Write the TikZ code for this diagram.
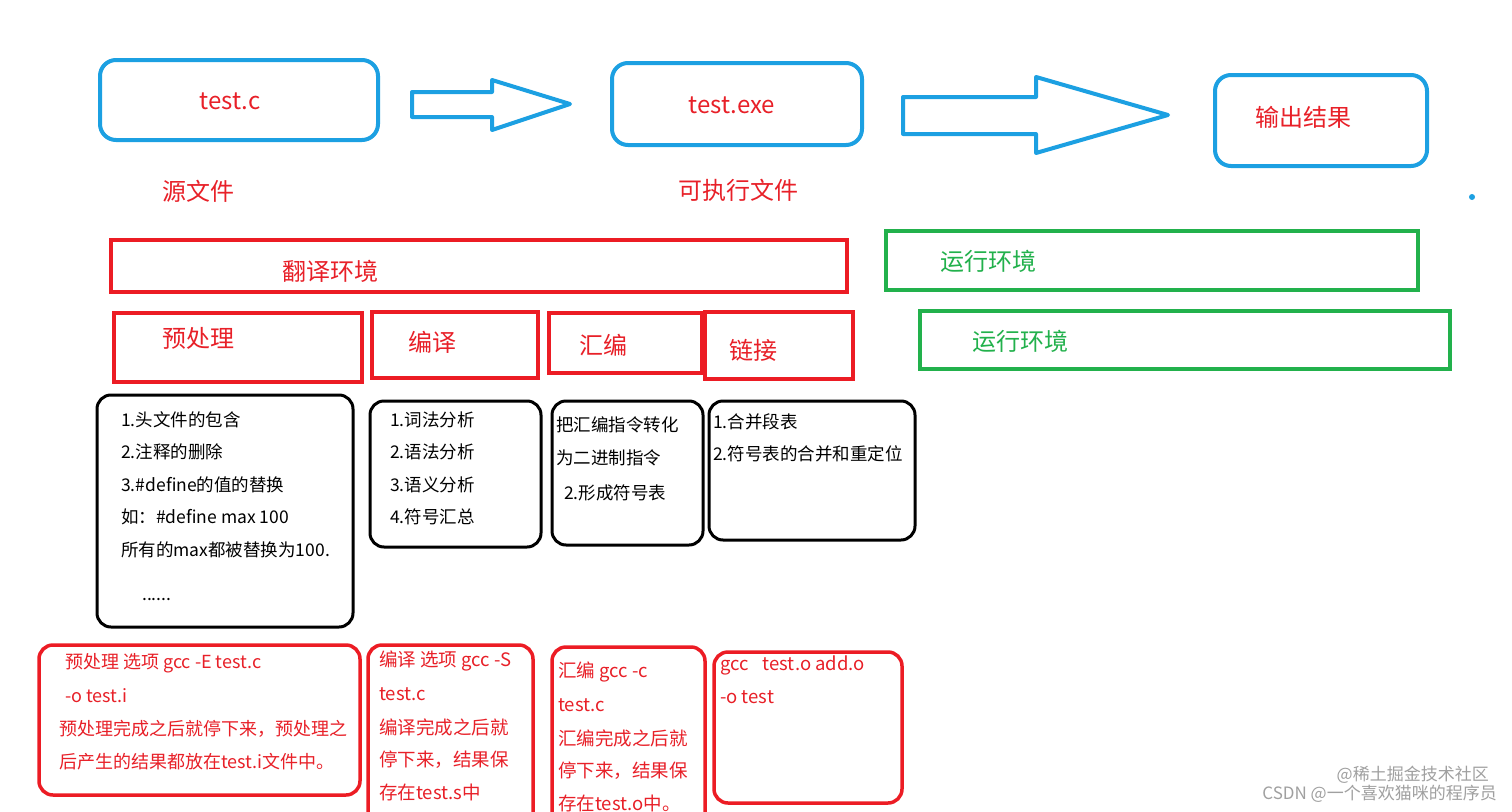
\documentclass[tikz,border=0pt]{standalone}
\usepackage{fontspec}
\setmainfont{Noto Sans CJK SC}
\definecolor{cblue}{RGB}{28,160,226}
\definecolor{cred}{RGB}{236,28,36}
\definecolor{tred}{RGB}{232,32,40}
\definecolor{cgreen}{RGB}{34,177,76}
\definecolor{wm}{RGB}{160,160,160}
\tikzset{
  bluebox/.style={draw=cblue, line width=4, rounded corners=16, inner sep=0},
  redrect/.style={draw=cred, line width=4.5, inner sep=0},
  greenrect/.style={draw=cgreen, line width=4, inner sep=0},
  blkbox/.style={draw=black, line width=3, rounded corners=14, inner sep=0},
  redbox/.style={draw=cred, line width=3.5, rounded corners=14, inner sep=0},
  blockarrow/.style={draw=cblue, line width=4, line join=round, fill=white},
  big/.style={inner sep=0, text=tred, font=\fontsize{24}{28}\selectfont},
  gbig/.style={big, text=cgreen},
  txt/.style={inner sep=0, anchor=west, font=\fontsize{17.5}{20}\selectfont},
  rtxt/.style={inner sep=0, anchor=west, text=tred, font=\fontsize{18.5}{20}\selectfont},
  rtxtb/.style={rtxt, font=\fontsize{18}{20}\selectfont},
  wmark/.style={inner sep=0, anchor=east, text=wm, font=\fontsize{17}{19}\selectfont}
}
\begin{document}
\begin{tikzpicture}[x=1pt,y=-1pt]
\useasboundingbox[fill=white] (0,0) rectangle (1512,811);

% top row
\node[bluebox, minimum width=278, minimum height=80] (src) at (239,100) {};
\node[bluebox, minimum width=250, minimum height=82] (exe) at (737,104) {};
\node[bluebox, minimum width=212, minimum height=91] (out) at (1321,120.5) {};
\node[big] (srct) at (230,101) {test.c};
\node[big] (exet) at (732,105) {test.exe};
\node[big] (outt) at (1303,117) {输出结果};
\node[big] (srcl) at (198,191) {源文件};
\node[big] (exel) at (738,190) {可执行文件};

\draw[blockarrow] (412,92) -- (492,92) -- (492,80) -- (570,104) -- (492,130) -- (492,117) -- (412,117) -- cycle;
\draw[blockarrow] (903,97) -- (1036,97) -- (1036,77) -- (1168,115) -- (1036,153) -- (1036,134) -- (903,134) -- cycle;
\fill[cblue] (1472,197) circle (3);

% environments
\node[redrect, minimum width=736, minimum height=52] (trans) at (479,266) {};
\node[big] (transt) at (330,271) {翻译环境};
\node[greenrect, minimum width=532, minimum height=59] (run1) at (1152,260.5) {};
\node[gbig] (run1t) at (988,261) {运行环境};
\node[greenrect, minimum width=530, minimum height=58] (run2) at (1185,340) {};
\node[gbig] (run2t) at (1020,341) {运行环境};

% stage headers
\node[redrect, minimum width=248, minimum height=69] (pre) at (238,347.5) {};
\node[big] (pret) at (198,338) {预处理};
\node[redrect, minimum width=166, minimum height=66] (comp) at (455,345) {};
\node[big] (compt) at (432,342) {编译};
\node[redrect, minimum width=153, minimum height=60] (asm) at (625.5,343) {};
\node[big] (asmt) at (603,345) {汇编};
\node[redrect, minimum width=148, minimum height=67] (link) at (779,345.5) {};
\node[big] (linkt) at (753,350) {链接};

% black boxes
\node[blkbox, minimum width=256, minimum height=232] (bA) at (225,511) {};
\node[txt] (a1) at (121,420) {1.头文件的包含};
\node[txt] (a2) at (121,452) {2.注释的删除};
\node[txt] (a3) at (121,485) {3.\#define的值的替换};
\node[txt] (a4) at (121,517) {如：\#define max 100};
\node[txt] (a5) at (121,550) {所有的max都被替换为100.};
\node[txt] (a6) at (142,600) {......};

\node[blkbox, minimum width=171, minimum height=146] (bB) at (455.5,474) {};
\node[txt] (b1) at (390,420) {1.词法分析};
\node[txt] (b2) at (390,452) {2.语法分析};
\node[txt] (b3) at (390,485) {3.语义分析};
\node[txt] (b4) at (390,517) {4.符号汇总};

\node[blkbox, minimum width=151, minimum height=144] (bC) at (627.5,473) {};
\node[txt] (c1) at (556,425) {把汇编指令转化};
\node[txt] (c2) at (556,458) {为二进制指令};
\node[txt] (c3) at (564,493) {2.形成符号表};

\node[blkbox, minimum width=206, minimum height=139] (bD) at (812,470.5) {};
\node[txt] (d1) at (713,422) {1.合并段表};
\node[txt] (d2) at (713,454) {2.符号表的合并和重定位};

% red bottom boxes
\node[redbox, minimum width=321, minimum height=150] (rE) at (199.5,720) {};
\node[rtxtb] (e1) at (65,663) {预处理 选项 gcc -E test.c};
\node[rtxtb] (e2) at (65,696) {-o test.i};
\node[rtxtb] (e3) at (59,729) {预处理完成之后就停下来，预处理之};
\node[rtxtb] (e4) at (59,762) {后产生的结果都放在test.i文件中。};

\node[redbox, minimum width=165, minimum height=190] (rF) at (450.5,740) {};
\node[rtxt] (f1) at (379,661) {编译 选项 gcc -S};
\node[rtxt] (f2) at (379,694) {test.c};
\node[rtxt] (f3) at (379,727) {编译完成之后就};
\node[rtxt] (f4) at (379,760) {停下来，结果保};
\node[rtxt] (f5) at (379,792) {存在test.s中};

\node[redbox, minimum width=153, minimum height=188] (rG) at (628.5,741) {};
\node[rtxt] (g1) at (558,672) {汇编 gcc -c};
\node[rtxt] (g2) at (558,705) {test.c};
\node[rtxt] (g3) at (558,738) {汇编完成之后就};
\node[rtxt] (g4) at (558,771) {停下来，结果保};
\node[rtxt] (g5) at (558,803) {存在test.o中。};

\node[redbox, minimum width=188, minimum height=151] (rH) at (808,727.5) {};
\node[rtxt] (h1) at (720,665) {gcc\hspace{14pt}test.o add.o};
\node[rtxt] (h2) at (720,697) {-o test};

% watermark
\node[wmark] (w1) at (1489,775) {@稀土掘金技术社区};
\node[wmark] (w2) at (1497,794) {CSDN @一个喜欢猫咪的程序员};
\end{tikzpicture}
\end{document}
